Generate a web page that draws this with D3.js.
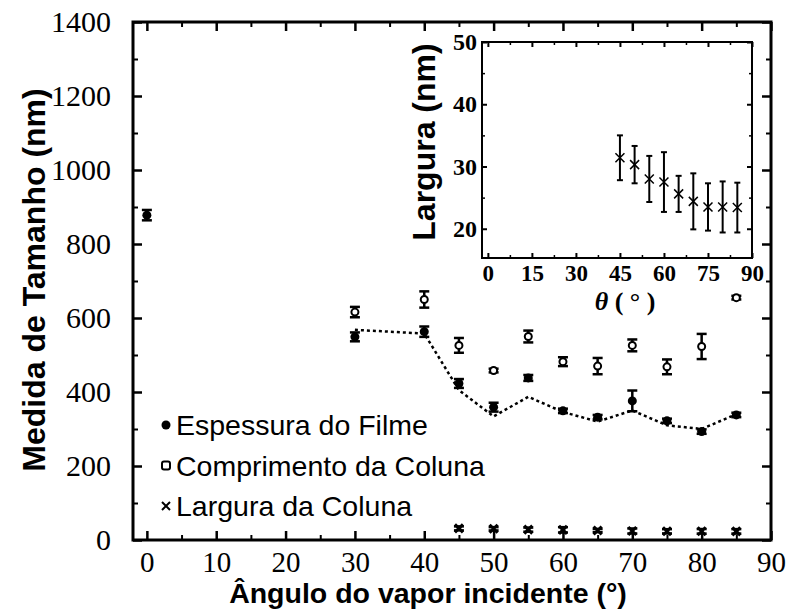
<!DOCTYPE html>
<html><head><meta charset="utf-8">
<script src="https://cdn.jsdelivr.net/npm/d3@7"></script>
<style>body{margin:0;background:#fff}svg{display:block}</style>
</head><body>
<script>
// ---------- data ----------
const angles = [0, 30, 40, 45, 50, 55, 60, 65, 70, 75, 80, 85];
const espessura = [878, 549, 563, 423, 359, 438, 349, 332, 376, 322, 293, 338];
const espessuraErr = [14, 12, 14, 12, 12, 8, 6, 6, 28, 6, 6, 6];
const compAngles = [30, 40, 45, 50, 55, 60, 65, 70, 75, 80, 85];
const comprimento = [616, 650, 526, 458, 550, 482, 470, 526, 468, 523, 655];
const comprimentoErr = [14, 22, 20, 5, 16, 12, 22, 16, 20, 34, 5];
const largAngles = [45, 50, 55, 60, 65, 70, 75, 80, 85];
const largura = [31.4, 30.3, 28.0, 27.5, 25.6, 24.4, 23.5, 23.5, 23.4];
const larguraErr = [3.6, 3.0, 3.7, 4.8, 2.9, 4.5, 3.8, 4.1, 4.0];
const fitAngles = [30, 40, 45, 50, 55, 60, 65, 70, 75, 80, 85];
const fitValues = [568, 558, 405, 334, 387, 346, 320, 350, 310, 300, 340];
const xTicks = [0, 10, 20, 30, 40, 50, 60, 70, 80, 90];
const yTicks = [0, 200, 400, 600, 800, 1000, 1200, 1400];
const insetXTicks = [0, 15, 30, 45, 60, 75, 90];
const insetYTicks = [20, 30, 40, 50];
const legendLabels = ["Espessura do Filme", "Comprimento da Coluna", "Largura da Coluna"];

// ---------- layout ----------
const W = 795, H = 610;
const svg = d3.select("body").append("svg").attr("width", W).attr("height", H);
const SERIF = "'Liberation Serif','Times New Roman',serif";
const SANS = "'Liberation Sans',Arial,sans-serif";

const x = d3.scaleLinear().domain([-2, 90]).range([133, 771]);
const y = d3.scaleLinear().domain([0, 1400]).range([540, 22]);

function styleAxis(g, sw) {
  g.select(".domain").remove();
  g.selectAll(".tick line").attr("stroke", "#000").attr("stroke-width", sw);
}

const xMinor = d3.range(5, 90, 10);
const yMinor = d3.range(100, 1400, 200);
// bottom
const gB = svg.append("g").attr("transform", `translate(0,540)`)
  .call(d3.axisBottom(x).tickValues(xTicks).tickSizeInner(-9).tickSizeOuter(0).tickPadding(11).tickFormat(d3.format("d")));
styleAxis(gB, 2.5);
gB.selectAll("text").attr("font-family", SERIF).attr("font-size", 29).attr("fill", "#000");
svg.append("g").attr("transform", `translate(0,540)`)
  .call(d3.axisBottom(x).tickValues(xMinor).tickSizeInner(-5).tickSizeOuter(0).tickFormat(""))
  .call(g => styleAxis(g, 2));
// top
svg.append("g").attr("transform", `translate(0,22)`)
  .call(d3.axisTop(x).tickValues(xTicks).tickSizeInner(-9).tickSizeOuter(0).tickFormat(""))
  .call(g => styleAxis(g, 2.5));
svg.append("g").attr("transform", `translate(0,22)`)
  .call(d3.axisTop(x).tickValues(xMinor).tickSizeInner(-5).tickSizeOuter(0).tickFormat(""))
  .call(g => styleAxis(g, 2));
// left
const gL = svg.append("g").attr("transform", `translate(133,0)`)
  .call(d3.axisLeft(y).tickValues(yTicks).tickSizeInner(-9).tickSizeOuter(0).tickPadding(22).tickFormat(d3.format("d")));
styleAxis(gL, 2.5);
gL.selectAll("text").attr("font-family", SERIF).attr("font-size", 30).attr("fill", "#000");
svg.append("g").attr("transform", `translate(133,0)`)
  .call(d3.axisLeft(y).tickValues(yMinor).tickSizeInner(-5).tickSizeOuter(0).tickFormat(""))
  .call(g => styleAxis(g, 2));
// right
svg.append("g").attr("transform", `translate(771,0)`)
  .call(d3.axisRight(y).tickValues(yTicks).tickSizeInner(-9).tickSizeOuter(0).tickFormat(""))
  .call(g => styleAxis(g, 2.5));
svg.append("g").attr("transform", `translate(771,0)`)
  .call(d3.axisRight(y).tickValues(yMinor).tickSizeInner(-5).tickSizeOuter(0).tickFormat(""))
  .call(g => styleAxis(g, 2));
// frame
svg.append("rect").attr("x", 133).attr("y", 22).attr("width", 638).attr("height", 518)
  .attr("fill", "none").attr("stroke", "#000").attr("stroke-width", 3);

// axis titles
svg.append("text").attr("x", 428).attr("y", 603).attr("text-anchor", "middle")
  .attr("font-family", SANS).attr("font-weight", "bold").attr("font-size", 28.5)
  .text("Ângulo do vapor incidente (°)");
svg.append("text").attr("transform", "translate(45,280) rotate(-90)").attr("text-anchor", "middle")
  .attr("font-family", SANS).attr("font-weight", "bold").attr("font-size", 32)
  .text("Medida de Tamanho (nm)");

// ---------- dashed line ----------
svg.append("path")
  .datum(fitAngles.map((a, i) => [a, fitValues[i]]))
  .attr("d", d3.line().x(d => x(d[0])).y(d => y(d[1])))
  .attr("fill", "none").attr("stroke", "#000").attr("stroke-width", 2.5).attr("stroke-dasharray", "3,3");

function errBars(g, xs, vs, es, xs_, ys_, cap, sw) {
  xs.forEach((a, i) => {
    const cx = xs_(a), y1 = ys_(vs[i] - es[i]), y2 = ys_(vs[i] + es[i]);
    g.append("line").attr("x1", cx).attr("x2", cx).attr("y1", y1).attr("y2", y2).attr("stroke", "#000").attr("stroke-width", sw);
    g.append("line").attr("x1", cx - cap).attr("x2", cx + cap).attr("y1", y1).attr("y2", y1).attr("stroke", "#000").attr("stroke-width", sw);
    g.append("line").attr("x1", cx - cap).attr("x2", cx + cap).attr("y1", y2).attr("y2", y2).attr("stroke", "#000").attr("stroke-width", sw);
  });
}

const gData = svg.append("g");
errBars(gData, angles, espessura, espessuraErr, x, y, 5, 2.5);
gData.selectAll("circle.esp").data(angles).join("circle").attr("class", "esp")
  .attr("cx", d => x(d)).attr("cy", (d, i) => y(espessura[i])).attr("r", 4.5).attr("fill", "#000");
errBars(gData, compAngles, comprimento, comprimentoErr, x, y, 5, 2.5);
gData.selectAll("circle.comp").data(compAngles).join("circle").attr("class", "comp")
  .attr("cx", d => x(d)).attr("cy", (d, i) => y(comprimento[i])).attr("r", 3.5)
  .attr("fill", "#fff").attr("stroke", "#000").attr("stroke-width", 2);
errBars(gData, largAngles, largura, larguraErr.map(e => e * 1.5), x, y, 5, 2.5);
largAngles.forEach((a, i) => {
  const cx = x(a), cy = y(largura[i]), s = 4;
  gData.append("path").attr("d", `M${cx - s},${cy - s}L${cx + s},${cy + s}M${cx - s},${cy + s}L${cx + s},${cy - s}`)
    .attr("stroke", "#000").attr("stroke-width", 3);
});

// ---------- legend ----------
const leg = svg.append("g");
legendLabels.forEach((t, i) => {
  const ly = 425 + i * 40.5;
  if (i === 0) leg.append("circle").attr("cx", 166).attr("cy", ly).attr("r", 4.5).attr("fill", "#000");
  if (i === 1) leg.append("rect").attr("x", 162).attr("y", ly - 4).attr("width", 8).attr("height", 8).attr("rx", 2)
    .attr("fill", "#fff").attr("stroke", "#000").attr("stroke-width", 2);
  if (i === 2) leg.append("path").attr("d", `M${162},${ly - 4}L${170},${ly + 4}M${162},${ly + 4}L${170},${ly - 4}`)
    .attr("stroke", "#000").attr("stroke-width", 2);
  leg.append("text").attr("x", 176).attr("y", ly + 10).attr("font-family", SANS).attr("font-size", 28.5).text(t);
});

// ---------- inset ----------
const ix = d3.scaleLinear().domain([-2, 90]).range([482, 752]);
const iy = d3.scaleLinear().domain([15.3, 50]).range([258, 42]);
const inset = svg.append("g");
inset.append("rect").attr("x", 482).attr("y", 42).attr("width", 270).attr("height", 216)
  .attr("fill", "#fff").attr("stroke", "#000").attr("stroke-width", 2);
const ixMinor = [7.5, 22.5, 37.5, 52.5, 67.5, 82.5];
const iyMinor = [25, 35, 45];
const gIB = inset.append("g").attr("transform", "translate(0,258)")
  .call(d3.axisBottom(ix).tickValues(insetXTicks).tickSizeInner(-5).tickSizeOuter(0).tickPadding(7).tickFormat(d3.format("d")));
styleAxis(gIB, 2);
gIB.selectAll("text").attr("font-family", SERIF).attr("font-weight", "bold").attr("font-size", 23).attr("fill", "#000");
inset.append("g").attr("transform", "translate(0,258)")
  .call(d3.axisBottom(ix).tickValues(ixMinor).tickSizeInner(-3).tickSizeOuter(0).tickFormat("")).call(g => styleAxis(g, 1.5));
inset.append("g").attr("transform", "translate(0,42)")
  .call(d3.axisTop(ix).tickValues(insetXTicks).tickSizeInner(-5).tickSizeOuter(0).tickFormat("")).call(g => styleAxis(g, 2));
inset.append("g").attr("transform", "translate(0,42)")
  .call(d3.axisTop(ix).tickValues(ixMinor).tickSizeInner(-3).tickSizeOuter(0).tickFormat("")).call(g => styleAxis(g, 1.5));
const gIL = inset.append("g").attr("transform", "translate(482,0)")
  .call(d3.axisLeft(iy).tickValues(insetYTicks).tickSizeInner(-5).tickSizeOuter(0).tickPadding(5).tickFormat(d3.format("d")));
styleAxis(gIL, 2);
gIL.selectAll("text").attr("font-family", SERIF).attr("font-weight", "bold").attr("font-size", 24).attr("fill", "#000");
inset.append("g").attr("transform", "translate(482,0)")
  .call(d3.axisLeft(iy).tickValues(iyMinor).tickSizeInner(-3).tickSizeOuter(0).tickFormat("")).call(g => styleAxis(g, 1.5));
inset.append("g").attr("transform", "translate(752,0)")
  .call(d3.axisRight(iy).tickValues(insetYTicks).tickSizeInner(-5).tickSizeOuter(0).tickFormat("")).call(g => styleAxis(g, 2));
inset.append("g").attr("transform", "translate(752,0)")
  .call(d3.axisRight(iy).tickValues(iyMinor).tickSizeInner(-3).tickSizeOuter(0).tickFormat("")).call(g => styleAxis(g, 1.5));

inset.append("text").attr("transform", "translate(435,142) rotate(-90)").attr("text-anchor", "middle")
  .attr("font-family", SANS).attr("font-weight", "bold").attr("font-size", 32).text("Largura (nm)");
const tl = inset.append("text").attr("x", 625).attr("y", 310).attr("text-anchor", "middle")
  .attr("font-family", SERIF).attr("font-size", 26).attr("font-weight", "bold");
tl.append("tspan").attr("font-style", "italic").text("θ");
tl.append("tspan").text(" ( ° )");

errBars(inset, largAngles, largura, larguraErr, ix, iy, 3, 2);
largAngles.forEach((a, i) => {
  const cx = ix(a), cy = iy(largura[i]), s = 4.5;
  inset.append("path").attr("d", `M${cx - s},${cy - s}L${cx + s},${cy + s}M${cx - s},${cy + s}L${cx + s},${cy - s}`)
    .attr("stroke", "#000").attr("stroke-width", 1.5);
});
</script>
</body></html>
